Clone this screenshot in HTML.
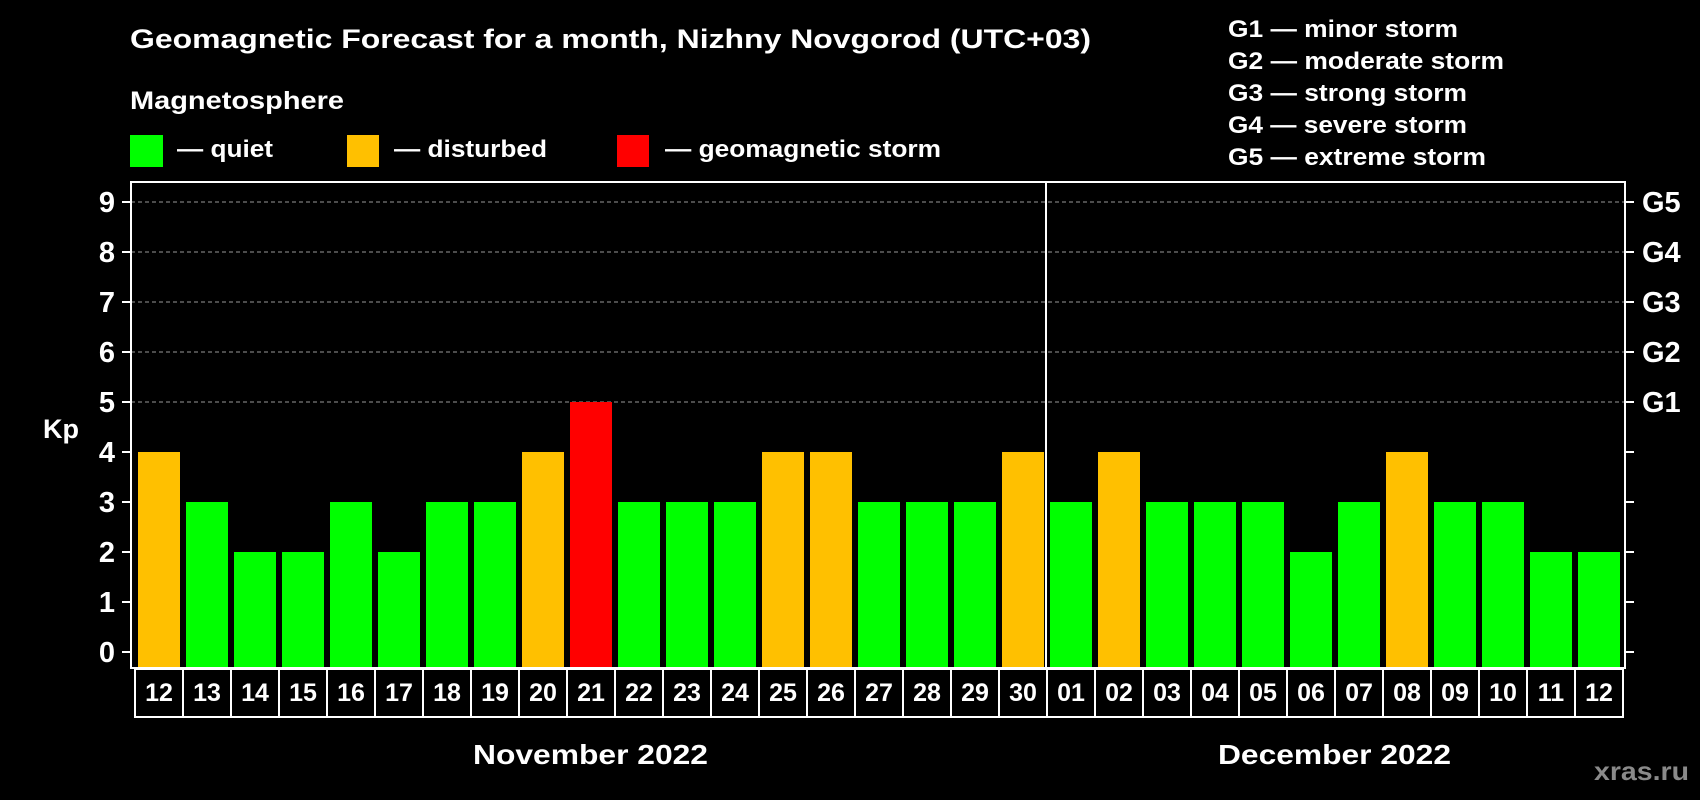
<!DOCTYPE html>
<html><head><meta charset="utf-8"><style>
html,body{margin:0;padding:0;background:#000;}
svg{display:block;font-family:"Liberation Sans",Arial,sans-serif;font-weight:bold;}
</style></head><body>
<svg id="chart" width="1700" height="800" viewBox="0 0 1700 800" xmlns="http://www.w3.org/2000/svg">
<rect width="1700" height="800" fill="#000"/>
<text x="130" y="48" fill="#fff" font-size="27" textLength="961" lengthAdjust="spacingAndGlyphs">Geomagnetic Forecast for a month, Nizhny Novgorod (UTC+03)</text>
<text x="130" y="109" fill="#fff" font-size="25" textLength="214" lengthAdjust="spacingAndGlyphs">Magnetosphere</text>
<g><rect x="130" y="135" width="33" height="32" fill="#00ff00"/><text x="177" y="157" fill="#fff" font-size="24" textLength="96" lengthAdjust="spacingAndGlyphs">— quiet</text></g>
<g><rect x="347" y="135" width="32" height="32" fill="#ffc000"/><text x="394" y="157" fill="#fff" font-size="24" textLength="153" lengthAdjust="spacingAndGlyphs">— disturbed</text></g>
<g><rect x="617" y="135" width="32" height="32" fill="#ff0000"/><text x="665" y="157" fill="#fff" font-size="24" textLength="276" lengthAdjust="spacingAndGlyphs">— geomagnetic storm</text></g>
<g fill="#fff" font-size="24">
<text x="1228" y="37" textLength="230" lengthAdjust="spacingAndGlyphs">G1 — minor storm</text>
<text x="1228" y="69" textLength="276" lengthAdjust="spacingAndGlyphs">G2 — moderate storm</text>
<text x="1228" y="101" textLength="239" lengthAdjust="spacingAndGlyphs">G3 — strong storm</text>
<text x="1228" y="133" textLength="239" lengthAdjust="spacingAndGlyphs">G4 — severe storm</text>
<text x="1228" y="165" textLength="258" lengthAdjust="spacingAndGlyphs">G5 — extreme storm</text>
</g>
<text x="43" y="438" fill="#fff" font-size="27">Kp</text>
<g id="grid"></g><g id="bars"></g><g id="axes"></g><g id="days"></g>
<text x="473" y="764" fill="#fff" font-size="28" textLength="235" lengthAdjust="spacingAndGlyphs">November 2022</text>
<text x="1218" y="764" fill="#fff" font-size="28" textLength="233" lengthAdjust="spacingAndGlyphs">December 2022</text>
<text x="1594" y="780" fill="#8a8a8a" font-size="26" textLength="95" lengthAdjust="spacingAndGlyphs">xras.ru</text>
</svg>
<script>
const days = ["12","13","14","15","16","17","18","19","20","21","22","23","24","25","26","27","28","29","30","01","02","03","04","05","06","07","08","09","10","11","12"];
const kpValues = [4,3,2,2,3,2,3,3,4,5,3,3,3,4,4,3,3,3,4,3,4,3,3,3,2,3,4,3,3,2,2];
const yTicks = [0,1,2,3,4,5,6,7,8,9];
const gLabels = ["","","","","","G1","G2","G3","G4","G5"];
const monthBreakIndex = 19;

const NS="http://www.w3.org/2000/svg";
const PL=131,PR=1625,PT=182,PB=668,SLOT0=135,SLOTW=48;
const y = v => 652 - v*50;
const xs = i => SLOT0 + i*SLOTW;
function mk(tag, attrs, parent){const e=document.createElementNS(NS,tag);for(const k in attrs)e.setAttribute(k,attrs[k]);parent.appendChild(e);return e;}
const grid=document.getElementById('grid'),bars=document.getElementById('bars'),axes=document.getElementById('axes'),dl=document.getElementById('days');
yTicks.forEach((t,i)=>{
  if(t>=5){const g=mk('line',{x1:PL,x2:PR,y1:y(t),y2:y(t),stroke:'#999','stroke-width':1,'stroke-dasharray':'4 3'},grid);
    
    }
  const tl=mk('line',{x1:122,x2:PL,y1:y(t),y2:y(t),stroke:'#fff','stroke-width':2},axes);
  
  
  const tr=mk('line',{x1:PR,x2:1634,y1:y(t),y2:y(t),stroke:'#fff','stroke-width':2},axes);
  
  
  const lb=mk('text',{x:115,y:y(t)+10,fill:'#fff','font-size':29,'text-anchor':'end'},axes);
  lb.textContent=t;
  
  
  if(gLabels[i]){const gl=mk('text',{x:1642,y:y(t)+10,fill:'#fff','font-size':29},axes);
    gl.textContent=gLabels[i];
    
    }
});
kpValues.forEach((v,i)=>{
  const c = v>=5?'#ff0000':(v>=4?'#ffc000':'#00ff00');
  const b=mk('rect',{x:xs(i)+3,y:y(v),width:42,height:PB-y(v),fill:c},bars);
  
  
  const bx=mk('rect',{x:xs(i),y:669,width:SLOTW,height:48,fill:'none',stroke:'#fff','stroke-width':2},dl);
  
  
  const t=mk('text',{x:xs(i)+SLOTW/2,y:701,fill:'#fff','font-size':25,'text-anchor':'middle'},dl);
  t.textContent=days[i];
  
  
});
const fr=mk('rect',{x:PL,y:PT,width:PR-PL,height:PB-PT,fill:'none',stroke:'#fff','stroke-width':2},axes);


const sep=mk('line',{x1:xs(monthBreakIndex)-1,x2:xs(monthBreakIndex)-1,y1:PT,y2:PB,stroke:'#fff','stroke-width':2},axes);


</script>
</body></html>
